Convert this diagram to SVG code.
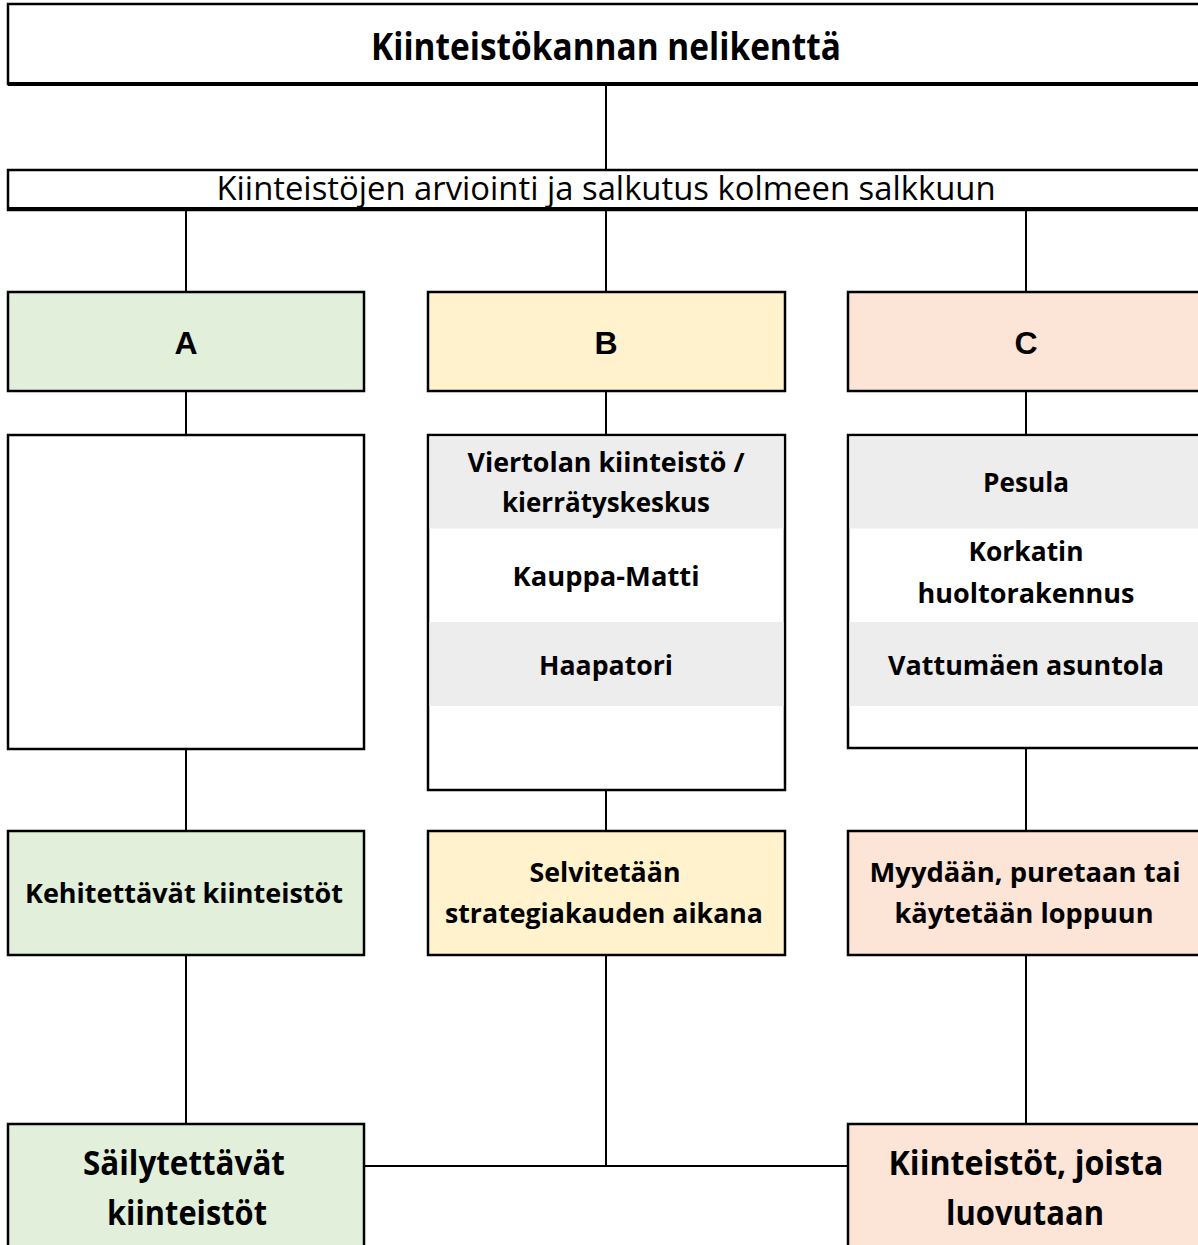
<svg xmlns="http://www.w3.org/2000/svg" width="1198" height="1245" viewBox="0 0 1198 1245">
<style>
.box{stroke:#000;stroke-width:2.5}
.w{fill:#fff}
.g{fill:#e2efda}
.y{fill:#fff2cc}
.o{fill:#fce4d6}
.gr{fill:#ededed}
.con{stroke:#000;stroke-width:2;fill:none}
text{font-family:"Open Sans","Liberation Sans",sans-serif;fill:#000;text-anchor:middle}
.b{font-weight:700}
.abc{font-family:"Liberation Sans",Arial,sans-serif;font-weight:700;font-size:32px}
.t26{font-size:26px}
.big{font-size:34px}
</style>
<rect width="1198" height="1245" fill="#fff"/>
<g id="connectors">
<line class="con" x1="606" y1="85" x2="606" y2="170"/>
<line class="con" x1="186" y1="210" x2="186" y2="292"/>
<line class="con" x1="606" y1="210" x2="606" y2="292"/>
<line class="con" x1="1026" y1="210" x2="1026" y2="292"/>
<line class="con" x1="186" y1="391" x2="186" y2="435"/>
<line class="con" x1="606" y1="391" x2="606" y2="435"/>
<line class="con" x1="1026" y1="391" x2="1026" y2="435"/>
<line class="con" x1="186" y1="749" x2="186" y2="831"/>
<line class="con" x1="606" y1="790" x2="606" y2="831"/>
<line class="con" x1="1026" y1="748" x2="1026" y2="831"/>
<line class="con" x1="186" y1="955" x2="186" y2="1124"/>
<line class="con" x1="606" y1="955" x2="606" y2="1166"/>
<line class="con" x1="1026" y1="955" x2="1026" y2="1124"/>
<line class="con" x1="364" y1="1166" x2="848" y2="1166" stroke-width="2.5"/>
</g>
<g id="title">
<rect class="box w" x="8" y="4" width="1200" height="80" stroke-width="2"/>
<line x1="8" y1="84" x2="1200" y2="84" stroke="#000" stroke-width="4"/>
<text class="b" x="606" y="60" font-size="38" textLength="470" lengthAdjust="spacingAndGlyphs">Kiinteistökannan nelikenttä</text>
</g>
<g id="subtitle">
<rect class="box w" x="8" y="170" width="1200" height="40" stroke-width="2"/>
<line x1="8" y1="209" x2="1200" y2="209" stroke="#000" stroke-width="4"/>
<text x="606" y="200" font-size="32" textLength="779" lengthAdjust="spacingAndGlyphs">Kiinteistöjen arviointi ja salkutus kolmeen salkkuun</text>
</g>
<g id="A">
<rect class="box g" x="8" y="292" width="356" height="99"/>
<text class="abc" x="186" y="354">A</text>
</g>
<g id="B">
<rect class="box y" x="428" y="292" width="357" height="99"/>
<text class="abc" x="606" y="354">B</text>
</g>
<g id="C">
<rect class="box o" x="848" y="292" width="360" height="99"/>
<text class="abc" x="1026" y="354">C</text>
</g>
<g id="A-list">
<rect class="box w" x="8" y="435" width="356" height="314"/>
</g>
<g id="B-list">
<rect class="box w" x="428" y="435" width="357" height="355"/>
<rect class="gr" x="429.5" y="436.5" width="354" height="92"/>
<rect class="gr" x="429.5" y="622" width="354" height="84"/>
<text class="b t26" x="606" y="472" textLength="277" lengthAdjust="spacingAndGlyphs">Viertolan kiinteistö /</text>
<text class="b t26" x="606" y="512" textLength="208" lengthAdjust="spacingAndGlyphs">kierrätyskeskus</text>
<text class="b t26" x="606" y="586" textLength="187" lengthAdjust="spacingAndGlyphs">Kauppa-Matti</text>
<text class="b t26" x="606" y="675" textLength="134" lengthAdjust="spacingAndGlyphs">Haapatori</text>
</g>
<g id="C-list">
<rect class="box w" x="848" y="435" width="360" height="313"/>
<rect class="gr" x="849.5" y="436.5" width="350" height="92"/>
<rect class="gr" x="849.5" y="622" width="350" height="84"/>
<text class="b t26" x="1026" y="492" textLength="86" lengthAdjust="spacingAndGlyphs">Pesula</text>
<text class="b t26" x="1026" y="561" textLength="115" lengthAdjust="spacingAndGlyphs">Korkatin</text>
<text class="b t26" x="1026" y="603" textLength="217" lengthAdjust="spacingAndGlyphs">huoltorakennus</text>
<text class="b t26" x="1026" y="675" textLength="276" lengthAdjust="spacingAndGlyphs">Vattumäen asuntola</text>
</g>
<g id="A-action">
<rect class="box g" x="8" y="831" width="356" height="124"/>
<text class="b t26" x="184" y="903" textLength="318" lengthAdjust="spacingAndGlyphs">Kehitettävät kiinteistöt</text>
</g>
<g id="B-action">
<rect class="box y" x="428" y="831" width="357" height="124"/>
<text class="b t26" x="605" y="882" textLength="151" lengthAdjust="spacingAndGlyphs">Selvitetään</text>
<text class="b t26" x="604" y="923" textLength="318" lengthAdjust="spacingAndGlyphs">strategiakauden aikana</text>
</g>
<g id="C-action">
<rect class="box o" x="848" y="831" width="360" height="124"/>
<text class="b t26" x="1025" y="882" textLength="311" lengthAdjust="spacingAndGlyphs">Myydään, puretaan tai</text>
<text class="b t26" x="1024" y="923" textLength="259" lengthAdjust="spacingAndGlyphs">käytetään loppuun</text>
</g>
<g id="keep">
<rect class="box g" x="8" y="1124" width="356" height="140"/>
<text class="b big" x="184" y="1175" textLength="202" lengthAdjust="spacingAndGlyphs">Säilytettävät</text>
<text class="b big" x="187" y="1225" textLength="160" lengthAdjust="spacingAndGlyphs">kiinteistöt</text>
</g>
<g id="dispose">
<rect class="box o" x="848" y="1124" width="360" height="140"/>
<text class="b big" x="1026" y="1175" textLength="275" lengthAdjust="spacingAndGlyphs">Kiinteistöt, joista</text>
<text class="b big" x="1025" y="1225" textLength="158" lengthAdjust="spacingAndGlyphs">luovutaan</text>
</g>
</svg>
